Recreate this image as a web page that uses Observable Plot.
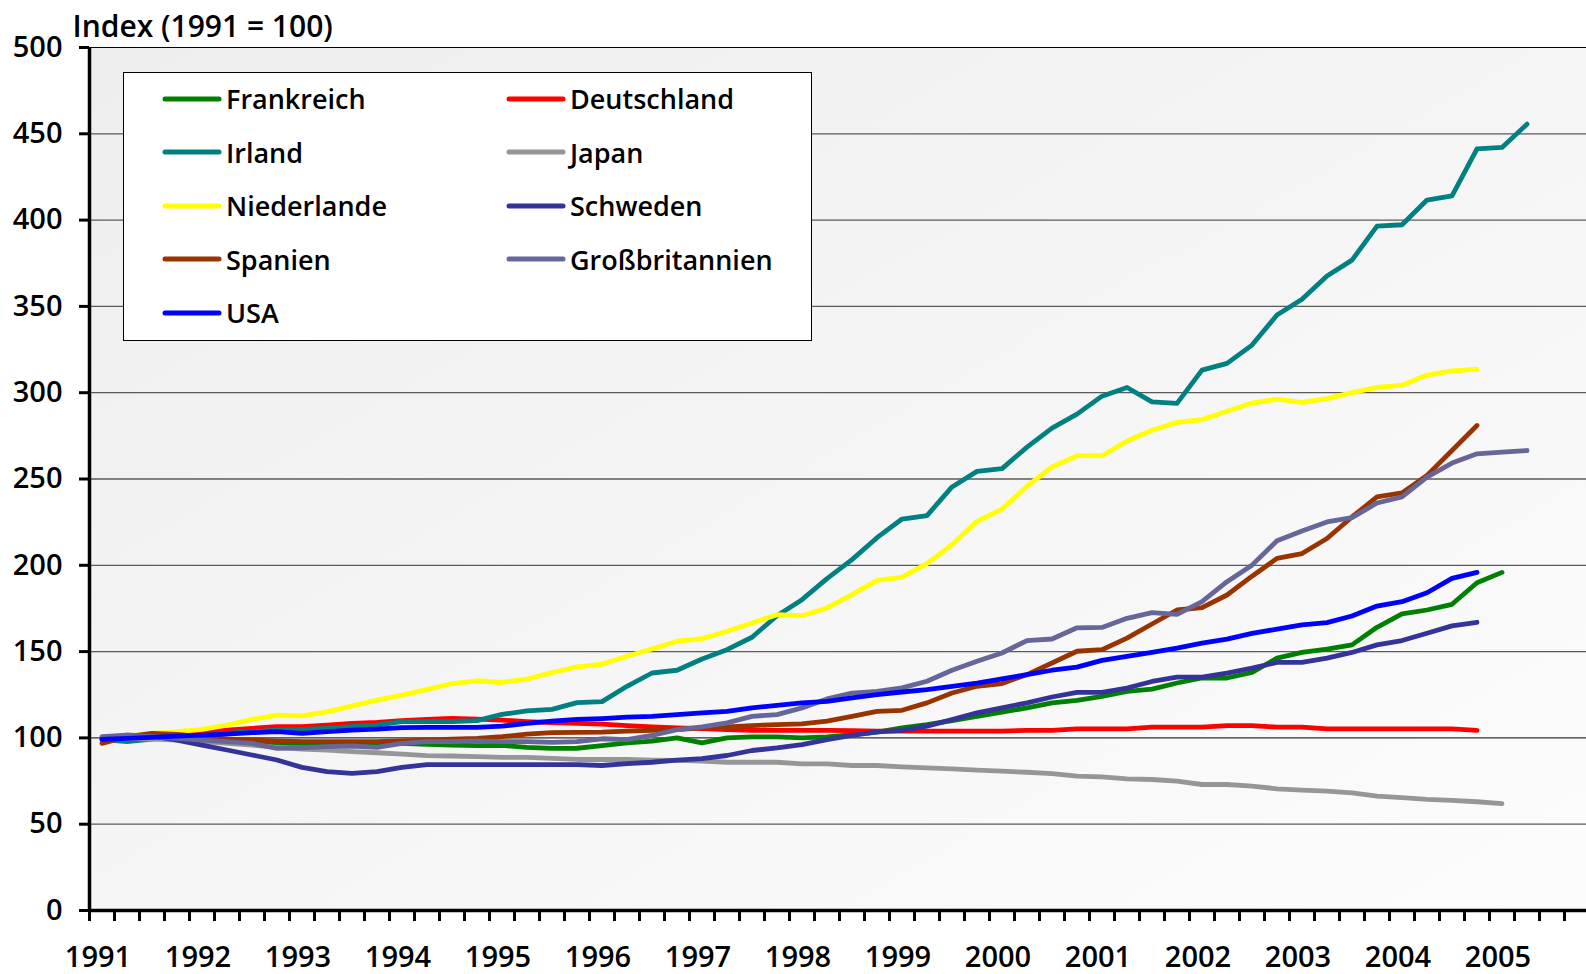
<!DOCTYPE html>
<html><head><meta charset="utf-8">
<script src="https://cdn.jsdelivr.net/npm/d3@7"></script>
<script src="https://cdn.jsdelivr.net/npm/@observablehq/plot@0.6"></script>
<style>
body{margin:0;background:#fff;}
#wrap{position:relative;width:1586px;height:974px;font-family:"Open Sans",sans-serif;}
#legend{position:absolute;left:123px;top:72px;width:689px;height:269px;box-sizing:border-box;border:1px solid #000;background:#fff;}
.item{position:absolute;display:flex;align-items:center;height:40px;font-size:27px;font-weight:600;color:#000;white-space:nowrap;}
.item svg{display:block;margin-right:4px;}
</style></head><body><div id="wrap"></div>
<script>
const title = "Index (1991 = 100)";
const years = [1991,1992,1993,1994,1995,1996,1997,1998,1999,2000,2001,2002,2003,2004,2005];
const seriesNames = ["Frankreich","Deutschland","Irland","Japan","Niederlande","Schweden","Spanien","Großbritannien","USA"];
const seriesColors = ["#008000","#ff0000","#008080","#969696","#ffff00","#333399","#993300","#666699","#0000ff"];
const yTicks = [0,50,100,150,200,250,300,350,400,450,500];

// quarterly values, first value = 1991 Q1
const frankreich = [99,99.7,100.3,99.7,98.7,97.8,97.2,96.8,96.8,97.2,97.2,97.2,96.8,96.2,95.8,95.5,95.7,94.5,93.9,94,95.5,97.1,98.1,100,97.1,100,100.6,100.6,100,100.6,101.9,103.3,105.8,107.7,110,112.5,114.9,117.4,120.3,121.7,124.1,127,128.3,131.8,134.7,134.7,137.9,146.2,149.5,151.4,153.9,164.1,171.8,174.1,177.4,189.9,195.9];
const deutschland = [99.3,100.3,101.2,102.6,103.5,104.5,105.5,106.5,106.5,107.4,108.4,109,110,110.7,111.3,110.9,110.3,109.4,108.8,108.4,108,107.1,106.4,105.8,105.4,104.8,104.4,104.4,104.4,104.4,104.2,103.9,103.9,103.9,103.9,103.9,103.9,104.4,104.4,105.2,105.2,105.2,106.2,106.2,106.2,107.1,107.1,106.2,106.2,105.2,105.2,105.2,105.2,105.2,105.2,104.4];
const irland = [99,97.8,99.3,100.7,101.2,102.6,103.6,104.5,104.9,105.5,106.5,107.4,109.4,109.4,109.5,110,113.6,115.7,116.5,120.4,121,129.9,137.6,139.2,145.7,151.1,158.3,170.8,180.1,192.3,203.3,216,226.8,228.8,245.4,254.4,256,268.5,279.5,287.6,298,303,294.7,293.8,313.1,317,327.6,345,354.2,367.6,376.8,396.5,397.3,411.6,414.1,441.3,442.1,455.6];
const japan = [99.7,99.7,99.3,98.7,97.8,96.8,95.8,94.5,93.5,92.9,92,91.4,90.6,89.7,89.5,89.1,88.7,88.7,88.1,87.5,87.5,87.5,87.1,87,86.5,85.9,85.9,85.9,85,85,84,84,83.2,82.6,82.1,81.3,80.7,80.1,79.3,77.8,77.4,76.3,75.9,75,73,73,72.1,70.5,69.8,69.2,68.2,66.3,65.4,64.4,63.8,63,61.9];
const niederlande = [99,100.7,102.6,103.6,104.9,107.4,110.7,113.2,112.8,115.1,118.6,121.9,124.8,128.1,131.5,133.1,132.1,134.1,137.9,141.2,142.8,147.3,151.5,156,157.5,161.8,166.6,171.4,170.8,175.3,183,191.3,193.2,201,212,225.5,232.6,245.8,257,263.5,263.5,272,278.2,282.8,284.4,289.2,294,296.3,294.4,296.6,300,303.1,304.4,310.2,312.7,313.7];
const schweden = [99.7,101.6,101.2,98.7,95.8,93,90.1,87.2,82.9,80.4,79.4,80.4,82.9,84.5,84.5,84.5,84.5,84.5,84.5,84.5,84,85.1,85.9,87.1,88,89.8,92.7,94.2,96.1,99,101.4,103.5,104.4,106.8,110.6,114.5,117.4,120.3,123.7,126.4,126.4,128.9,132.7,135.2,135.2,137.5,140.4,143.7,143.7,146.2,149.5,153.9,156.4,160.6,164.9,167];
const spanien = [96.8,100.7,102.6,102,100.7,99.3,98.7,98.2,97.8,97.8,97.8,97.8,98.3,98.7,99.3,99.7,100.7,102.2,103,103.2,103.3,103.9,104.4,104.8,105.8,106.4,107.1,107.7,108.1,109.7,112.5,115.4,116,120.3,126,129.9,131.5,136.7,143.4,150.2,151.1,157.8,166,174.1,175.5,182.8,193.7,204,206.8,215.5,228,239.6,241.9,252.1,266.5,281];
const grossbritannien = [100.7,101.6,100.7,99.7,98.7,97.8,96.8,93.9,94.3,94.9,95.3,94.5,96.8,97.8,97.8,98.3,97.8,97.8,97.4,97.8,99.5,99,101.4,104.8,106.4,108.7,112.5,113.5,117.4,122.6,126,127,129,132.8,139.2,144.4,149.2,156.4,157.3,163.8,164,169.3,172.6,171.6,178.9,190.5,200.1,214.2,219.9,225.1,227.6,236.1,239.6,251.1,259.2,264.6,265.6,266.5];
const usa = [99.1,99.7,100.3,101,101.6,102.2,103,103.6,102.6,103.6,104.5,105.1,105.9,106.1,106.1,106.1,106.8,108.4,109.7,110.7,111.2,112,112.5,113.5,114.5,115.4,117.4,118.9,120.3,121.2,123.2,125.1,126.6,128,129.9,131.8,134.2,136.7,139.2,141,144.9,147.2,149.5,152,154.9,157.2,160.6,163,165.5,166.8,170.6,176.4,178.9,184.1,192.4,195.9];

const seriesValues = [frankreich, deutschland, irland, japan, niederlande, schweden, spanien, grossbritannien, usa];

const W = 1586, H = 974, ML = 89, MT = 47, MB = 64, catW = 25;
const nQuarters = years.length * 4;
const boundaries = d3.range(nQuarters).map(k => k - 0.5);
const lineMarks = seriesValues.map((vals, k) =>
  Plot.line(vals.map((v, i) => ({i, v, s: seriesNames[k]})), {
    x: "i", y: "v", stroke: seriesColors[k], strokeWidth: 4.8,
    strokeLinejoin: "round", strokeLinecap: "round"
  })
);

const chart = Plot.plot({
  width: W, height: H,
  marginLeft: ML, marginRight: 0, marginTop: MT, marginBottom: MB,
  style: {fontFamily: '"Open Sans", sans-serif', fontWeight: 600, color: "#000", background: "transparent", overflow: "visible"},
  x: {domain: [-0.5, (W - ML) / catW - 0.5]},
  y: {domain: [0, 500]},
  marks: [
    Plot.frame({fill: "url(#bgGrad)", stroke: null}),
    Plot.gridY(yTicks.filter(d => d > 0 && d !== 100 && d < 500), {stroke: "#5a5a5a", strokeOpacity: 1, strokeWidth: 1.3}),
    Plot.gridY([100, 500], {stroke: "#000", strokeOpacity: 1, strokeWidth: 1}),
    ...lineMarks,
    Plot.ruleX([-0.5], {stroke: "#000", strokeWidth: 3.5}),
    Plot.ruleY([0], {stroke: "#000", strokeWidth: 3.5}),
    Plot.axisY({ticks: yTicks, tickSize: 10, tickPadding: 17, fontSize: 29, strokeWidth: 3, label: null, tickFormat: d => String(d)}),
    Plot.axisX({ticks: boundaries, tickSize: 11, tickFormat: () => "", strokeWidth: 3, label: null}),
    Plot.text(years, {x: d => (d - years[0]) * 4, text: d => String(d), frameAnchor: "bottom", dy: 47, dx: -4, fontSize: 29, lineAnchor: "middle", fill: "#000"}),
    Plot.text([title], {frameAnchor: "top-left", dx: -17, dy: -20, textAnchor: "start", lineAnchor: "middle", fontSize: 30, fill: "#000"})
  ]
});

const defs = d3.select(chart).insert("defs", ":first-child");
const g = defs.append("linearGradient").attr("id", "bgGrad").attr("x1", "0").attr("y1", "0").attr("x2", "1").attr("y2", "1");
g.append("stop").attr("offset", "0").attr("stop-color", "#eeeeee");
g.append("stop").attr("offset", "1").attr("stop-color", "#fcfcfc");

const wrap = document.getElementById("wrap");
wrap.appendChild(chart);

// legend (two columns, row-wise order)
const legend = document.createElement("div");
legend.id = "legend";
wrap.appendChild(legend);
const colLeft = [38, 382];
const rowCenter = [25.5, 79, 132.5, 186, 239.5];
seriesNames.forEach((name, k) => {
  const row = Math.floor(k / 2), col = k % 2;
  const item = document.createElement("div");
  item.className = "item";
  item.style.left = colLeft[col] + "px";
  item.style.top = (rowCenter[row] - 20) + "px";
  item.innerHTML = `<svg width="60" height="10"><line x1="3" y1="5" x2="57" y2="5" stroke="${seriesColors[k]}" stroke-width="5" stroke-linecap="round"/></svg><span>${name}</span>`;
  legend.appendChild(item);
});
</script></body></html>
